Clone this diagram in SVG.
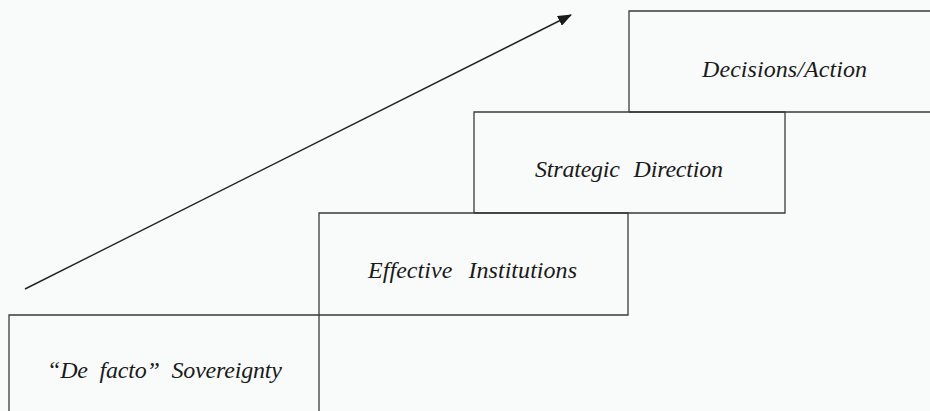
<svg xmlns="http://www.w3.org/2000/svg" width="930" height="411" viewBox="0 0 930 411">
<style>
.box{fill:none;stroke:#3a3a3a;stroke-width:1.3}
</style>
<defs>
<marker id="ah" markerWidth="14" markerHeight="11" refX="13" refY="5.5" orient="auto" markerUnits="userSpaceOnUse">
<path d="M0,0 L14,5.5 L0,11 Z" fill="#1a1a1a"/>
</marker>
</defs>
<rect width="930" height="411" fill="#f9fbfb"/>
<g font-family="Liberation Serif, Times New Roman, serif" font-style="italic" font-size="24" fill="#1a1a1a">
<g id="node-sovereignty">
<path class="box" d="M9,420 V315 H319 V420"/>
<text x="47" y="378" word-spacing="6" textLength="235" lengthAdjust="spacing">“De facto” Sovereignty</text>
</g>
<g id="node-institutions">
<path class="box" d="M319,315 V213 H628 V315 H319"/>
<text x="368" y="278" word-spacing="10" textLength="209" lengthAdjust="spacing">Effective Institutions</text>
</g>
<g id="node-strategic">
<path class="box" d="M474,213 V112 H785 V213 H474"/>
<text x="535" y="177" word-spacing="8" textLength="188" lengthAdjust="spacing">Strategic Direction</text>
</g>
<g id="node-decisions">
<path class="box" d="M629,112 V11 H935 M629,112 H935"/>
<text x="702" y="77" textLength="165" lengthAdjust="spacing">Decisions/Action</text>
</g>
</g>
<g id="connectors">
<line x1="25" y1="289" x2="571" y2="15" stroke="#222" stroke-width="1.4" marker-end="url(#ah)"/>
</g>
</svg>
